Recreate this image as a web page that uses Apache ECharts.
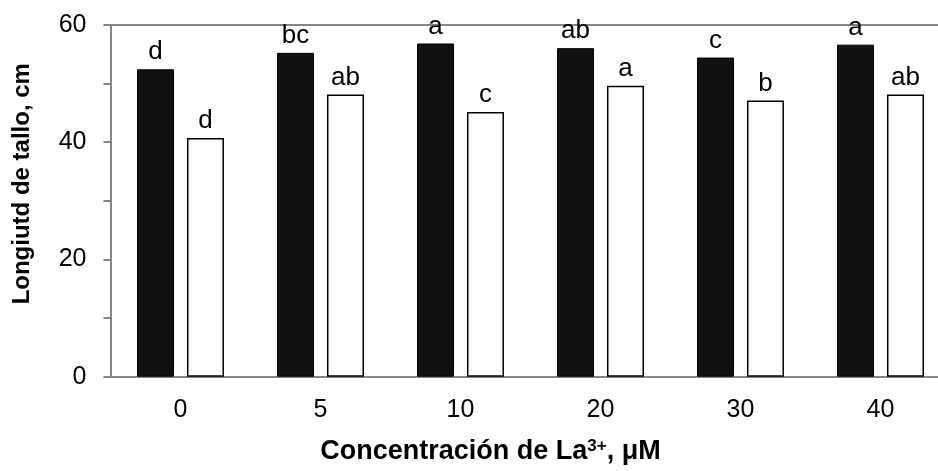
<!DOCTYPE html>
<html>
<head>
<meta charset="utf-8">
<script src="https://cdn.jsdelivr.net/npm/echarts@6/dist/echarts.min.js"></script>
<style>
html,body{margin:0;padding:0;background:#fff;}
#chart{width:938px;height:471px;}
</style>
</head>
<body>
<div id="chart"></div>
<script>
const categories = ['0', '5', '10', '20', '30', '40'];
const seriesBlack = [52.4, 55.2, 56.8, 56.0, 54.4, 56.6];
const seriesWhite = [40.7, 48.1, 45.1, 49.6, 47.1, 48.1];
const lettersBlack = ['d', 'bc', 'a', 'ab', 'c', 'a'];
const lettersWhite = ['d', 'ab', 'c', 'a', 'b', 'ab'];
const yTickLabels = [0, 20, 40, 60];

const FONT = "'Liberation Sans', Arial, sans-serif";
const chart = echarts.init(document.getElementById('chart'));

chart.setOption({
  animation: false,
  backgroundColor: '#fff',
  grid: { left: 110.5, right: -12.5, top: 24.7, bottom: 94.3, outerBoundsMode: 'none' },
  xAxis: {
    type: 'category',
    data: categories,
    axisLine: { show: true, lineStyle: { color: '#868686', width: 2 } },
    axisTick: { show: false },
    axisLabel: { color: '#000', fontFamily: FONT, fontSize: 25, margin: 21 },
    name: 'Concentración de La{sup|3+}, μM',
    nameLocation: 'middle',
    nameGap: 61,
    nameTextStyle: {
      color: '#000', fontFamily: FONT, fontSize: 27, fontWeight: 'bold',
      padding: [0, 80, 0, 0],
      rich: { sup: { fontSize: 17, fontWeight: 'bold', fontFamily: FONT, color: '#000', verticalAlign: 'top', padding: [0, 0, 9, 0] } }
    }
  },
  yAxis: [{
    type: 'value',
    min: 0, max: 60, interval: 10,
    axisLine: { show: true, lineStyle: { color: '#868686', width: 2 } },
    axisTick: { show: true, inside: false, length: 7, lineStyle: { color: '#868686', width: 2 } },
    axisLabel: {
      color: '#000', fontFamily: FONT, fontSize: 25, margin: 24,
      formatter: v => (yTickLabels.indexOf(v) >= 0 ? String(v) : '')
    },
    splitLine: { show: false },
    name: 'Longiutd de tallo, cm',
    nameLocation: 'middle',
    nameGap: 76,
    nameRotate: 90,
    nameTextStyle: { color: '#000', fontFamily: FONT, fontSize: 24, fontWeight: 'bold', padding: [0, 0, 0, 34] }
  }, {
    type: 'value',
    min: 0, max: 60, interval: 60,
    position: 'left',
    axisLine: { show: false },
    axisTick: { show: false },
    axisLabel: { show: false },
    splitLine: { show: true, lineStyle: { color: '#868686', width: 2 } }
  }],
  series: [{
    name: 'Serie 1',
    type: 'bar',
    yAxisIndex: 0,
    data: seriesBlack,
    barWidth: 37,
    barGap: '35%',
    itemStyle: { color: '#111', borderColor: '#000', borderWidth: 1 },
    label: {
      show: true, position: 'top', distance: 4,
      color: '#000', fontFamily: FONT, fontSize: 26,
      formatter: p => lettersBlack[p.dataIndex]
    }
  }, {
    name: 'Serie 2',
    type: 'bar',
    yAxisIndex: 0,
    data: seriesWhite,
    barWidth: 37,
    itemStyle: { color: '#fff', borderColor: '#000', borderWidth: 1.5 },
    label: {
      show: true, position: 'top', distance: 4,
      color: '#000', fontFamily: FONT, fontSize: 26,
      formatter: p => lettersWhite[p.dataIndex]
    }
  }]
});
</script>
</body>
</html>
